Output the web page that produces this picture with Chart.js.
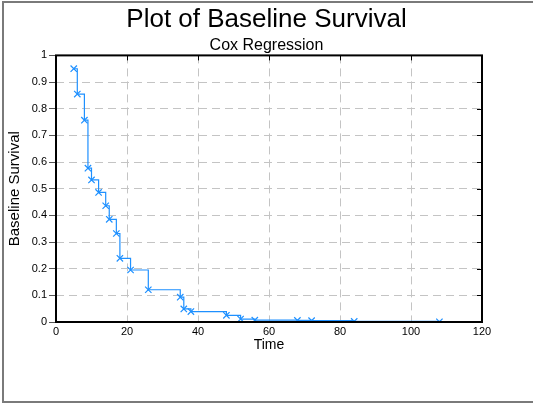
<!DOCTYPE html>
<html>
<head>
<meta charset="utf-8">
<script src="https://cdn.jsdelivr.net/npm/chart.js@4"></script>
<style>
  html, body { margin: 0; padding: 0; background: #fff; overflow: hidden; }
  #wrap { position: relative; width: 533px; height: 403px; }
  #frame { position: absolute; left: 2px; top: 1px; width: 600px; height: 398px; border: 2px solid #7a7a7a; }
  #myChart { position: absolute; left: 0; top: 0; }
</style>
</head>
<body>
<div id="wrap">
  <div id="frame"></div>
  <canvas id="myChart" width="533" height="403"></canvas>
</div>
<script>
// event times and the baseline survival estimate at each one
const times = [5, 6, 8, 9, 10, 12, 14, 15, 17, 18, 21, 26, 35, 36, 38, 48, 52, 56, 68, 72, 84, 108];
const survival = [0.95, 0.855, 0.757, 0.577, 0.533, 0.486, 0.436, 0.385, 0.332, 0.239, 0.195, 0.121,
                  0.093, 0.049, 0.039, 0.025, 0.011, 0.007, 0.006, 0.005, 0.002, 0.0005];
const xTicks = [0, 20, 40, 60, 80, 100, 120];
const yTicks = [0, 0.1, 0.2, 0.3, 0.4, 0.5, 0.6, 0.7, 0.8, 0.9, 1];

const FONT = 'Arial, "Liberation Sans", sans-serif';

// black box round the plot, with short inward ticks on the top and right sides
const plotFrame = {
    id: 'plotFrame',
    afterDatasetsDraw(chart) {
        const { ctx, chartArea: a, scales } = chart;
        ctx.save();
        ctx.strokeStyle = '#000';
        ctx.lineWidth = 1;
        ctx.beginPath();
        xTicks.forEach(v => {
            const x = Math.round(scales.x.getPixelForValue(v)) + 0.5;
            ctx.moveTo(x, a.top); ctx.lineTo(x, a.top + 5);
        });
        yTicks.forEach(v => {
            const y = Math.round(scales.y.getPixelForValue(v)) + 0.5;
            ctx.moveTo(a.right, y); ctx.lineTo(a.right - 5, y);
        });
        ctx.stroke();
        ctx.lineWidth = 2;
        ctx.strokeRect(a.left, a.top, a.right - a.left, a.bottom - a.top);
        ctx.restore();
    }
};

const ctx = document.getElementById('myChart').getContext('2d');
const myChart = new Chart(ctx, {
    type: 'line',
    data: {
        datasets: [{
            data: times.map((t, i) => ({ x: t, y: survival[i] })),
            stepped: true,
            borderColor: '#1e90ff',
            borderWidth: 1.2,
            backgroundColor: 'transparent',
            pointStyle: 'crossRot',
            pointRadius: 4.5,
            pointBorderColor: '#1e90ff',
            pointBorderWidth: 1.2,
            fill: false
        }]
    },
    options: {
        responsive: false,
        animation: false,
        layout: { padding: { left: 0, right: 0, top: 0, bottom: 49 } },
        plugins: {
            legend: { display: false },
            tooltip: { enabled: false },
            title: {
                display: true,
                text: 'Plot of Baseline Survival',
                color: '#000',
                font: { family: FONT, size: 26, weight: 'normal' },
                padding: { top: 4, bottom: 0 }
            },
            subtitle: {
                display: true,
                text: 'Cox Regression',
                color: '#000',
                font: { family: FONT, size: 16, weight: 'normal' },
                padding: { top: 1, bottom: 0 }
            }
        },
        scales: {
            x: {
                type: 'linear',
                min: 0,
                max: 120,
                afterBuildTicks: s => { s.ticks = xTicks.map(v => ({ value: v })); },
                afterFit: s => { s.height = 32; },
                ticks: { color: '#000', font: { family: FONT, size: 11 }, padding: 3, maxRotation: 0 },
                grid: { color: '#c4c4c4', lineWidth: 1, drawTicks: false },
                border: { display: false, dash: [8, 5] },
                title: { display: true, text: 'Time', color: '#000', font: { family: FONT, size: 14 }, padding: 0 }
            },
            y: {
                type: 'linear',
                min: 0,
                max: 1,
                afterBuildTicks: s => { s.ticks = yTicks.map(v => ({ value: v })); },
                afterFit: s => { s.width = 56; },
                ticks: { color: '#000', font: { family: FONT, size: 11 }, padding: 2, callback: v => String(v) },
                grid: { color: '#c4c4c4', lineWidth: 1, tickLength: 7, tickColor: '#555' },
                border: { display: false, dash: [8, 5] },
                title: { display: true, text: 'Baseline Survival', color: '#000', font: { family: FONT, size: 15 }, padding: 6 }
            },
            // empty right-hand margin, so the titles stay centred on the whole page
            yRight: {
                type: 'linear',
                position: 'right',
                display: true,
                afterFit: s => { s.width = 51; },
                ticks: { display: false },
                grid: { display: false, drawOnChartArea: false },
                border: { display: false }
            }
        }
    },
    plugins: [plotFrame]
});
</script>
</body>
</html>
